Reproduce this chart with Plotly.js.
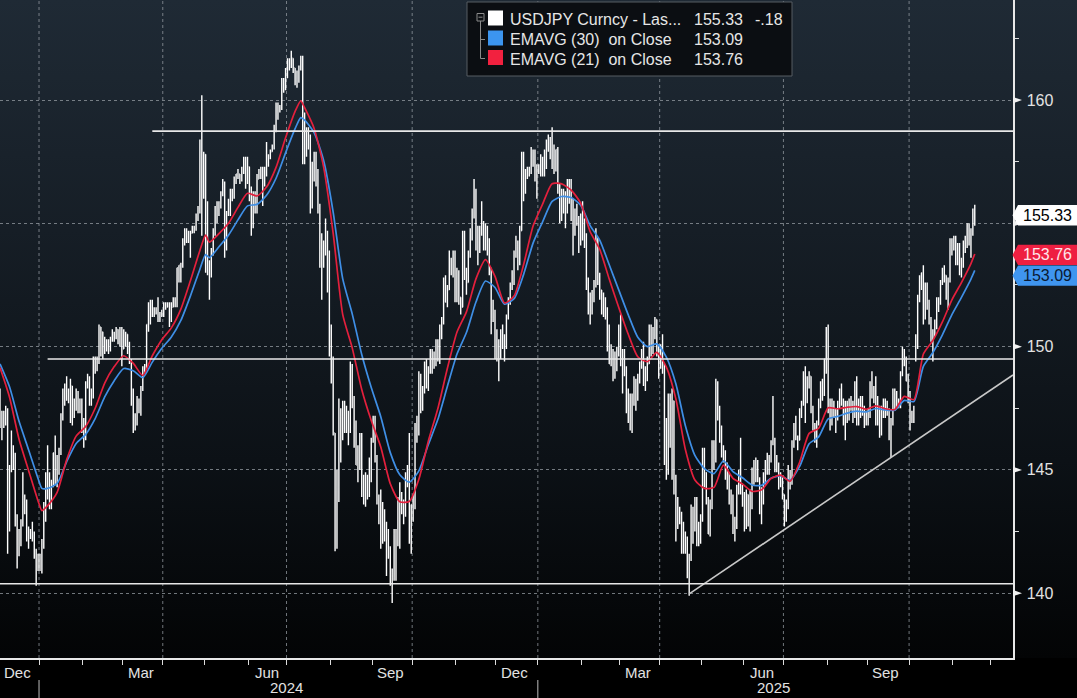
<!DOCTYPE html>
<html>
<head>
<meta charset="utf-8">
<script src="https://cdn.plot.ly/plotly-3.0.1.min.js"></script>
<style>
html,body{margin:0;padding:0;background:#000;}
#bg{position:absolute;left:0;top:0;width:1077px;height:658px;background:linear-gradient(to bottom,#1f2a35 0%,#161e26 35%,#0c1116 70%,#030405 100%);}
#chart{position:absolute;left:0;top:0;width:1077px;height:698px;}
</style>
</head>
<body>
<div id="bg"></div>
<div id="chart"></div>
<script>
// ---------------- DATA (USDJPY daily bars, first trading day 2023-12-01) ----------------
const firstDay = '2023-12-01';
const open = [
148.2,
146.9,147.2,147.2,147.3,144.1, 145.0,145.8,145.4,142.9,141.9, 142.2,142.8,143.8,143.6,142.2, 142.4,142.4,142.4,141.7,141.4,
141.0,141.0,141.9,143.3,144.6, 144.6,144.2,144.4,145.7,145.3, 144.9,145.7,147.2,148.2,148.1, 148.1,148.1,148.4,147.5,147.7, 148.1,147.5,147.6,146.9,146.4,
148.4,148.7,147.9,148.1,149.3, 149.3,149.4,150.8,150.6,149.9, 150.2,150.1,150.0,150.3,150.5, 150.5,150.7,150.5,150.7,149.9,
150.1,150.5,150.0,149.4,148.0, 147.0,146.9,147.7,147.8,148.3, 149.0,149.1,150.9,151.3,151.6, 151.4,151.4,151.5,151.3,151.3,
151.3,151.6,151.6,151.7,151.3, 151.6,151.9,151.8,153.2,153.3, 153.3,154.2,154.7,154.6,154.6, 154.6,154.8,154.8,155.3,155.6, 158.3,156.3,157.8,155.2,153.0,
152.9,153.9,154.7,155.5,155.4, 155.8,156.2,156.5,154.9,155.4, 155.7,156.3,156.2,156.8,157.0, 157.0,156.8,157.2,157.6,156.8,
157.3,156.1,154.9,156.1,155.6, 156.8,157.0,157.1,156.7,157.0, 157.4,157.7,157.9,158.1,158.9, 159.8,159.7,159.7,160.8,160.8,
160.9,161.5,161.4,161.7,161.3, 160.7,160.8,161.3,161.7,158.9, 157.9,158.1,158.3,156.2,157.4, 157.5,157.0,155.6,153.9,153.9, 153.8,154.0,152.7,150.0,149.4,
146.5,144.2,144.3,146.7,147.2, 146.6,147.2,146.9,147.3,149.2, 147.6,146.6,145.2,145.3,146.3, 144.4,144.5,143.9,144.6,145.0,
146.2,147.0,145.4,143.7,143.5, 142.3,143.1,142.4,142.4,141.8, 140.8,140.6,142.4,142.3,142.6, 143.9,143.6,143.2,144.8,145.0, 142.2,143.6,143.5,146.5,146.9,
148.7,148.2,148.2,149.3,148.6, 149.1,149.8,149.2,149.6,150.1, 149.5,150.8,151.1,152.7,151.8, 152.3,153.3,153.4,153.4,152.0,
153.0,152.0,151.6,154.6,152.9, 152.6,153.7,154.6,155.5,156.3, 154.3,154.6,154.7,155.0,154.5, 154.8,154.2,153.1,151.1,151.4,
149.8,149.6,149.6,150.6,150.1, 150.0,151.2,151.9,152.5,152.6, 153.7,154.1,153.5,154.7,157.4, 156.5,157.1,157.2,157.1,157.9,
157.9,156.8,157.2,157.2,157.5,
157.3,157.6,158.0,158.3,158.1, 157.8,157.5,158.0,156.5,155.2, 156.3,155.6,155.5,156.5,156.0, 156.0,154.6,155.5,155.2,154.3,
155.2,154.8,154.4,152.6,151.6, 151.4,152.0,152.5,154.4,152.8, 152.3,151.6,151.9,151.5,150.2, 149.3,149.7,149.0,149.2,149.8,
150.6,149.4,149.7,149.0,147.9, 148.0,147.3,147.8,148.6,148.0, 148.6,149.2,149.3,148.7,148.8, 149.3,150.7,149.9,150.6,151.1, 149.8,149.9,149.6,149.3,146.1,
146.9,147.8,146.3,147.8,144.5, 143.5,143.1,143.2,141.7,142.4, 142.2,140.9,141.5,143.4,142.6, 143.7,142.0,142.3,143.1,145.3,
144.9,143.7,142.4,143.7,145.9, 145.4,148.4,147.5,146.7,145.7, 145.7,144.8,144.5,143.7,143.9, 142.6,142.8,144.3,144.8,144.2,
144.0,142.7,144.0,142.8,143.5, 144.9,144.6,145.0,144.6,143.5, 144.1,144.8,145.3,145.1,145.5, 146.1,146.2,145.0,145.2,144.4, 144.6,144.0,143.4,143.6,144.9,
144.5,146.1,146.6,146.3,146.2, 147.4,147.7,148.9,147.8,148.6, 148.8,147.4,146.6,146.5,146.9, 147.7,148.5,148.4,149.5,150.7,
147.4,147.1,147.7,147.4,147.1, 147.7,148.2,147.8,147.4,147.7, 147.2,147.8,147.7,147.3,148.4, 146.9,147.8,147.4,147.4,146.9,
147.1,147.2,148.4,148.1,148.1, 147.4,147.5,146.5,147.4,147.2, 147.7,147.4,146.5,146.9,148.0, 148.0,147.7,147.7,148.9,149.8, 149.5,148.6,147.9,147.1,147.3,
149.8,150.1,152.0,152.7,153.0, 151.2,152.3,151.8,151.1,150.4, 150.6,150.8,151.9,151.9,152.6, 152.9,152.9,152.1,152.7,154.1,
154.0,154.2,153.6,154.1,153.1, 153.4,154.1,154.1,154.8,154.6, 154.6,155.5
];
const high = [
148.3,
147.4,147.4,147.6,147.5,145.2, 146.6,146.0,145.7,143.2,142.6, 143.0,144.9,144.0,143.8,142.7, 142.6,142.9,142.5,141.8,141.6,
141.6,142.2,143.7,144.9,146.0, 144.9,144.6,145.7,146.4,145.6, 145.9,147.3,148.3,148.5,148.8, 148.3,148.7,148.4,147.9,148.3, 148.2,147.9,147.9,147.1,148.6,
148.9,148.8,148.3,149.6,149.6, 149.6,150.9,150.8,150.6,150.4, 150.3,150.3,150.4,150.7,150.6, 150.8,150.7,150.8,150.8,150.7,
150.6,150.5,150.2,149.5,148.3, 147.3,148.0,147.9,148.4,149.2, 149.3,150.9,151.8,151.9,151.9, 151.6,151.6,152.0,151.4,151.5,
151.8,151.8,151.8,151.8,151.8, 152.0,152.0,153.2,153.3,153.4, 154.4,154.8,154.8,154.7,154.7, 154.9,154.9,155.4,155.7,158.4, 160.2,157.9,157.8,155.9,153.5,
154.0,154.8,155.7,155.9,155.9, 156.3,156.8,156.7,155.5,156.0, 156.4,156.4,156.9,157.0,157.2, 157.0,157.3,157.7,157.7,157.7,
157.3,156.5,156.3,156.3,157.0, 157.2,157.3,157.3,157.3,158.3, 157.8,158.0,158.2,159.0,159.9, 159.9,159.8,160.9,160.9,161.3,
161.7,161.7,162.0,161.7,161.3, 161.2,161.4,161.8,161.8,159.5, 158.9,158.9,158.6,157.5,157.9, 157.9,157.2,155.8,154.6,154.3, 155.2,154.7,153.9,150.9,149.6,
146.5,145.0,147.9,147.5,147.8, 147.8,147.6,147.4,149.4,149.3, 148.0,147.0,146.0,146.5,146.5, 144.8,144.9,144.8,145.5,146.3,
147.2,147.2,145.6,144.0,144.2, 143.7,143.4,142.9,142.6,141.9, 141.0,142.6,142.6,143.9,144.5, 144.1,143.8,144.9,145.2,146.5, 143.6,144.0,146.9,147.2,149.0,
148.9,148.4,149.4,149.5,149.2, 149.9,149.9,149.8,150.3,150.3, 150.9,151.2,152.8,152.9,152.5, 153.9,153.6,153.9,153.9,153.2,
153.1,152.0,154.7,154.7,153.2, 153.9,154.8,155.6,156.8,156.4, 154.9,154.9,155.9,155.1,155.0, 154.9,154.4,153.2,151.9,151.5,
150.7,150.3,150.7,150.9,150.5, 151.3,152.0,152.6,153.1,153.9, 154.5,154.3,154.9,157.9,157.9, 157.2,157.3,157.3,158.1,158.0,
158.0,157.4,157.4,157.8,157.7,
158.0,158.4,158.6,158.5,158.9, 158.2,158.0,158.1,156.6,156.4, 156.4,156.3,156.8,156.8,156.8, 156.0,155.6,155.8,155.3,155.4,
155.9,155.2,154.6,152.8,152.2, 152.3,152.7,154.8,154.4,153.0, 152.3,152.2,152.0,151.6,150.9, 150.1,149.9,149.8,150.0,150.9,
151.3,149.9,149.9,149.2,148.3, 148.1,148.1,148.8,148.7,148.9, 149.4,149.9,150.2,149.2,149.6, 150.9,150.9,150.8,151.2,151.1, 150.1,150.1,150.5,149.3,147.1,
148.1,148.1,148.3,147.8,144.8, 143.9,143.5,143.3,142.9,142.5, 142.3,141.6,143.6,143.5,143.9, 143.9,142.9,143.2,145.9,145.9,
144.9,143.9,143.8,146.2,146.2, 148.7,148.6,147.6,146.8,146.0, 145.8,145.3,144.9,144.2,144.0, 143.1,144.4,145.0,146.3,144.4,
144.1,144.2,144.0,144.2,145.1, 145.4,145.5,145.4,144.7,144.3, 144.9,145.4,145.7,145.6,146.2, 148.0,146.3,145.6,145.3,144.9, 144.7,144.0,143.8,145.2,145.0,
146.2,146.9,147.2,146.4,147.5, 147.8,149.0,149.2,148.8,149.0, 148.8,147.6,146.9,147.0,147.9, 148.6,148.7,149.5,150.8,150.9,
147.9,147.9,147.8,147.5,147.8, 148.3,148.5,147.9,147.8,147.8, 147.9,148.0,147.8,148.6,148.8, 147.9,148.0,148.0,147.6,147.4,
147.5,148.6,149.0,148.4,148.8, 148.0,147.6,147.6,147.9,147.9, 147.8,147.5,147.1,148.3,148.3, 148.2,147.9,149.0,150.0,149.9, 149.6,148.9,148.2,147.4,147.6,
150.5,152.1,152.9,153.0,153.3, 152.6,152.6,151.9,151.2,150.7, 151.1,152.0,152.0,152.7,153.2, 153.3,152.9,152.8,154.4,154.4,
154.5,154.5,154.2,154.2,153.6, 154.3,154.5,155.0,155.0,154.8, 155.6,155.75
];
const low = [
146.7,
146.2,146.7,146.8,141.6,142.5, 144.9,145.0,142.7,141.0,141.5, 141.9,142.7,143.2,142.1,141.8, 142.2,142.1,141.4,140.3,140.9,
140.9,140.8,141.8,142.9,143.8, 143.4,143.4,144.3,144.4,144.3, 144.8,145.6,147.0,147.6,147.8, 147.7,146.9,146.8,147.1,147.4, 147.3,147.3,146.5,145.9,146.2,
148.3,147.6,147.6,147.9,148.9, 149.0,149.3,149.6,149.5,149.7, 149.8,149.7,149.8,150.2,150.2, 150.3,150.1,150.0,149.2,149.9,
150.0,149.7,149.3,147.6,146.5, 146.6,146.8,147.3,147.2,148.2, 148.9,149.1,150.6,150.9,151.2, 151.2,151.3,151.0,151.0,151.2,
151.2,151.5,151.6,150.8,151.0, 151.6,151.6,151.6,152.6,152.6, 153.2,154.1,154.2,154.2,153.6, 154.6,154.6,154.7,155.1,155.4, 154.5,156.0,153.0,152.9,151.9,
152.8,153.7,154.5,155.0,155.3, 155.6,156.1,153.6,153.9,155.3, 155.3,155.9,156.0,156.6,156.8, 156.6,156.7,157.0,156.4,156.6,
155.9,154.5,154.8,155.4,155.4, 156.8,156.8,155.7,156.5,156.9, 157.3,157.6,157.9,158.0,158.7, 159.2,159.5,159.6,160.3,160.4,
160.9,161.2,161.3,161.1,160.6, 160.5,160.7,161.2,157.4,157.4, 157.7,158.0,155.4,155.6,156.7, 156.5,155.4,153.2,151.9,153.2, 153.7,152.2,149.6,148.5,146.4,
141.7,141.8,143.7,145.3,146.2, 146.5,146.5,146.0,146.5,147.5, 145.9,145.2,144.5,145.0,143.9, 143.6,143.5,143.8,143.9,144.5,
146.1,145.3,143.6,142.8,141.8, 142.0,142.1,140.7,141.4,140.3, 139.6,140.5,140.5,141.9,141.8, 143.2,142.8,143.1,144.3,142.0, 141.6,142.9,143.4,146.1,146.4,
147.3,147.4,148.1,148.3,148.2, 148.9,148.9,149.1,149.2,149.4, 149.3,150.3,150.9,151.8,151.6, 152.3,152.9,152.8,151.8,151.8,
151.7,151.3,151.6,152.7,152.1, 152.6,153.6,154.3,155.2,153.9, 153.3,153.8,154.5,153.9,153.9, 153.7,152.9,150.5,151.0,149.5,
149.4,148.6,149.5,149.9,149.4, 149.9,151.1,151.7,152.3,152.5, 153.6,153.1,153.3,154.7,155.9, 156.2,156.8,156.9,157.0,157.3,
156.7,156.0,157.0,156.9,156.9,
156.9,157.2,157.9,157.6,157.2, 157.0,157.1,156.2,155.0,155.1, 155.4,154.8,155.4,155.8,155.1, 153.7,154.5,154.9,153.8,154.1,
154.3,154.0,152.3,151.3,150.9, 151.3,151.8,152.4,152.5,151.9, 151.3,151.2,151.1,149.8,149.3, 149.2,148.6,148.7,149.0,149.6,
149.2,148.1,148.8,147.3,146.9, 146.6,146.5,147.6,147.4,147.8, 148.5,149.1,148.4,148.2,148.6, 149.3,149.6,149.7,150.3,149.6, 148.7,149.1,148.9,145.2,144.6,
144.8,145.9,144.6,144.0,142.1, 142.6,142.8,141.6,141.6,141.6, 140.6,139.9,141.3,142.0,142.5, 141.9,141.9,142.0,142.9,144.3,
143.6,142.4,142.3,143.4,145.0, 145.3,147.0,146.1,145.5,145.3, 144.6,144.2,143.6,143.2,142.4, 142.1,142.6,144.0,144.0,143.5,
142.5,142.6,142.7,142.5,143.4, 144.4,144.5,144.5,143.2,142.8, 143.6,144.4,144.8,144.8,145.3, 146.0,144.9,144.9,144.2,144.3, 143.8,142.7,142.9,143.4,144.2,
144.4,145.9,146.2,145.8,146.2, 147.1,147.6,146.9,147.7,148.3, 147.3,146.6,146.1,145.9,146.8, 147.5,147.8,148.0,148.9,147.3,
146.6,146.8,147.1,146.5,147.0, 147.5,147.6,146.8,146.2,146.9, 147.0,147.4,146.9,147.1,146.8, 146.8,147.1,147.2,146.7,146.8,
146.8,147.1,147.9,147.7,146.8, 146.8,146.3,146.4,147.1,147.1, 147.2,146.2,145.5,146.8,147.4, 147.5,147.5,147.5,148.8,149.2, 148.6,147.7,146.6,146.9,146.9,
149.4,149.9,151.8,152.3,150.9, 151.1,151.5,150.9,150.2,149.4, 150.4,150.7,151.4,151.7,152.5, 152.6,151.9,151.5,152.6,153.7,
153.9,153.3,153.3,152.9,152.8, 153.2,153.8,154.0,154.1,153.6, 154.5,154.9
];
const close = [
146.8,
147.2,147.2,147.3,144.1,144.9, 145.8,145.4,142.9,141.9,142.2, 142.8,143.8,143.6,142.2,142.4, 142.4,142.4,141.7,141.4,141.0,
141.0,141.9,143.3,144.6,144.6, 144.2,144.4,145.7,145.3,144.9, 145.7,147.2,148.2,148.1,148.1, 148.1,148.4,147.5,147.7,148.1, 147.5,147.6,146.9,146.4,148.4,
148.7,147.9,148.1,149.3,149.3, 149.4,150.8,150.6,149.9,150.2, 150.1,150.0,150.3,150.5,150.5, 150.7,150.5,150.7,149.9,150.1,
150.5,150.0,149.4,148.0,147.0, 146.9,147.7,147.8,148.3,149.0, 149.1,150.9,151.3,151.6,151.4, 151.4,151.5,151.3,151.3,151.3,
151.6,151.6,151.7,151.3,151.6, 151.9,151.8,153.2,153.3,153.3, 154.2,154.7,154.6,154.6,154.6, 154.8,154.8,155.3,155.6,158.3, 156.3,157.8,155.2,153.0,152.9,
153.9,154.7,155.5,155.4,155.8, 156.2,156.5,154.9,155.4,155.7, 156.3,156.2,156.8,157.0,157.0, 156.8,157.2,157.6,156.8,157.3,
156.1,154.9,156.1,155.6,156.8, 157.0,157.1,156.7,157.0,157.4, 157.7,157.9,158.1,158.9,159.8, 159.7,159.7,160.8,160.8,160.9,
161.5,161.4,161.7,161.3,160.7, 160.8,161.3,161.7,158.9,157.9, 158.1,158.3,156.2,157.4,157.5, 157.0,155.6,153.9,153.9,153.8, 154.0,152.7,150.0,149.4,146.5,
144.2,144.3,146.7,147.2,146.6, 147.2,146.9,147.3,149.3,147.6, 146.6,145.2,145.3,146.3,144.4, 144.5,143.9,144.6,145.0,146.2,
147.0,145.4,143.7,143.5,142.3, 143.1,142.4,142.4,141.8,140.8, 140.6,142.4,142.3,142.6,143.9, 143.6,143.2,144.8,145.0,142.2, 143.6,143.5,146.5,146.9,148.7,
148.2,148.2,149.3,148.6,149.1, 149.8,149.2,149.6,150.1,149.5, 150.8,151.1,152.7,151.8,152.3, 153.3,153.4,153.4,152.0,153.0,
152.0,151.6,154.6,152.9,152.6, 153.7,154.6,155.5,156.3,154.3, 154.6,154.7,155.4,154.5,154.8, 154.2,153.1,151.1,151.4,149.8,
149.6,149.6,150.6,150.1,150.0, 151.2,151.9,152.5,152.6,153.7, 154.1,153.5,154.7,157.4,156.5, 157.1,157.2,157.1,157.9,157.9,
156.8,157.2,157.2,157.5,157.3,
157.6,158.0,158.3,158.1,157.8, 157.5,158.0,156.5,155.2,156.3, 155.6,155.5,156.5,156.0,156.0, 154.6,155.5,155.2,154.3,155.2,
154.8,154.4,152.6,151.6,151.4, 152.0,152.5,154.4,152.8,152.3, 151.6,151.9,151.5,150.2,149.3, 149.7,149.0,149.2,149.8,150.6,
149.4,149.7,149.0,147.9,148.0, 147.3,147.8,148.6,148.0,148.6, 149.2,149.3,148.7,148.8,149.3, 150.7,149.9,150.6,151.1,149.8, 149.9,149.6,149.3,146.1,146.9,
147.8,146.3,147.8,144.5,143.5, 143.1,143.2,141.7,142.4,142.2, 140.9,141.5,143.4,142.6,143.7, 142.0,142.3,143.1,145.3,144.9,
143.7,142.4,143.7,145.9,145.4, 148.4,147.5,146.7,145.7,145.7, 144.8,144.5,143.7,143.9,142.6, 142.8,144.3,144.8,144.2,144.0,
142.7,144.0,142.8,143.5,144.9, 144.6,145.0,144.6,143.5,144.1, 144.8,145.3,145.1,145.5,146.1, 146.2,145.0,145.2,144.4,144.6, 144.0,143.4,143.6,144.9,144.5,
146.1,146.6,146.3,146.2,147.4, 147.7,148.9,147.8,148.6,148.8, 147.4,146.6,146.5,146.9,147.7, 148.5,148.4,149.5,150.7,147.4,
147.1,147.7,147.4,147.1,147.7, 148.2,147.8,147.4,147.7,147.2, 147.8,147.7,147.3,148.4,146.9, 147.8,147.4,147.4,146.9,147.1,
147.2,148.4,148.1,148.1,147.4, 147.5,146.5,147.4,147.2,147.7, 147.4,146.5,146.9,148.0,148.0, 147.7,147.7,148.9,149.8,149.5, 148.6,147.9,147.1,147.3,147.5,
150.1,152.0,152.7,153.0,151.2, 152.3,151.8,151.1,150.4,150.6, 150.8,151.9,151.9,152.6,152.9, 152.9,152.1,152.7,154.1,154.0,
154.2,153.6,154.1,153.1,153.4, 154.1,154.1,154.8,154.6,154.6, 155.51,155.33
];

// EMA values
const emaDates = [
'2023-12-01','2023-12-08','2023-12-15','2023-12-22','2023-12-29','2024-01-02','2024-01-05','2024-01-12','2024-01-19','2024-01-26',
'2024-02-02','2024-02-09','2024-02-16','2024-02-23','2024-03-01','2024-03-08','2024-03-15','2024-03-22','2024-03-29','2024-04-05',
'2024-04-12','2024-04-19','2024-04-26','2024-05-01','2024-05-03','2024-05-10','2024-05-17','2024-05-24','2024-05-31','2024-06-07',
'2024-06-14','2024-06-21','2024-06-28','2024-07-05','2024-07-10','2024-07-12','2024-07-19','2024-07-26','2024-08-02','2024-08-09',
'2024-08-16','2024-08-23','2024-08-30','2024-09-06','2024-09-13','2024-09-20','2024-09-27','2024-10-04','2024-10-11','2024-10-18',
'2024-10-25','2024-11-01','2024-11-08','2024-11-15','2024-11-22','2024-11-29','2024-12-06','2024-12-13','2024-12-20','2024-12-27',
'2025-01-03','2025-01-10','2025-01-17','2025-01-24','2025-01-31','2025-02-07','2025-02-14','2025-02-21','2025-02-28','2025-03-07',
'2025-03-14','2025-03-21','2025-03-28','2025-04-04','2025-04-11','2025-04-18','2025-04-25','2025-05-02','2025-05-09','2025-05-16',
'2025-05-23','2025-05-30','2025-06-06','2025-06-13','2025-06-20','2025-06-27','2025-07-04','2025-07-11','2025-07-18','2025-07-25',
'2025-08-01','2025-08-08','2025-08-15','2025-08-22','2025-08-29','2025-09-05','2025-09-12','2025-09-19','2025-09-26','2025-10-03',
'2025-10-10','2025-10-17','2025-10-24','2025-10-31','2025-11-07','2025-11-14','2025-11-18'
];
const ema21 = [
149.15,147.95,146.24,144.98,143.74,143.35,143.55,144.09,145.41,146.37,
146.76,147.50,148.52,149.19,149.63,149.32,148.83,149.63,150.28,150.76,
151.52,152.67,153.90,154.52,154.24,154.58,155.00,155.65,156.22,156.11,
156.47,157.27,158.47,159.54,159.97,159.69,158.85,157.28,154.59,151.31,
149.95,148.26,147.00,145.93,144.44,143.71,143.72,144.62,146.17,147.49,
149.12,150.58,151.41,152.75,153.53,152.85,151.77,152.05,153.32,154.89,
155.78,156.61,156.60,156.35,155.82,154.66,153.95,152.74,151.59,150.50,
149.59,149.39,149.77,149.17,147.88,145.83,144.59,144.25,144.29,145.19,
144.66,144.43,144.13,144.19,144.65,144.79,144.54,145.31,146.48,146.69,
147.52,147.48,147.54,147.57,147.46,147.60,147.48,147.45,147.98,147.85,
149.70,150.25,151.00,151.90,152.60,153.37,153.76
];
const ema30 = [
149.30,148.37,146.97,145.82,144.65,144.25,144.25,144.45,145.33,146.07,
146.44,147.08,147.96,148.62,149.11,149.02,148.74,149.37,149.93,150.39,
151.06,152.05,153.14,153.73,153.61,154.05,154.52,155.14,155.71,155.77,
156.14,156.83,157.86,158.84,159.29,159.19,158.68,157.55,155.46,152.76,
151.33,149.68,148.34,147.16,145.70,144.80,144.50,144.96,146.03,147.05,
148.39,149.69,150.57,151.81,152.66,152.40,151.72,151.94,152.92,154.20,
155.06,155.89,156.09,156.05,155.74,154.91,154.32,153.32,152.30,151.29,
150.38,150.00,150.11,149.57,148.49,146.79,145.59,145.05,144.85,145.37,
144.93,144.68,144.39,144.37,144.66,144.76,144.58,145.14,146.06,146.34,
147.07,147.17,147.30,147.38,147.35,147.49,147.43,147.42,147.82,147.77,
149.20,149.76,150.48,151.30,152.00,152.74,153.09
];

// Annotated levels and trend line
const levelValues = [158.74, 149.50, 140.38];
const levelStarts = ['2024-03-22 12:00', '2024-01-05 12:00', '2023-12-01 12:00'];
const trendDates = ['2025-04-22 12:00', '2025-12-16 14:00'];
const trendValues = [139.97, 148.85];

const monthLabels = ['Dec', 'Mar', 'Jun', 'Sep', 'Dec', 'Mar', 'Jun', 'Sep'];
const monthLabelDates = ['2023-12-14 12:00','2024-03-14 12:00','2024-06-14 12:00','2024-09-13 12:00','2024-12-13 12:00','2025-03-14 12:00','2025-06-13 12:00','2025-09-12 12:00'];
const yearLabels = ['2024', '2025'];
const yearLabelDates = ['2024-07-01', '2025-06-24'];
const yearStarts = ['2024-01-01', '2025-01-01'];
const quarterStarts = ['2024-01-01','2024-04-01','2024-07-01','2024-10-01','2025-01-01','2025-04-01','2025-07-01','2025-10-01'];
const yTicks = [140, 145, 150, 155, 160];
const yTickText = ['140', '145', '150', '', '160'];   // 155 sits under the last-price tag
const yMinor = [142.5, 147.5, 152.5, 157.5, 162.5];
const lastChange = '-.18';
const seriesName = 'USDJPY Curncy - Las...';

// ---------------- helpers ----------------
function bizDays(start, n) {
  const out = [];
  let d = new Date(start + 'T12:00:00Z');
  while (out.length < n) {
    const wd = d.getUTCDay();
    if (wd !== 0 && wd !== 6) out.push(d.toISOString().slice(0, 10) + ' 12:00');
    d = new Date(d.getTime() + 86400000);
  }
  return out;
}
function monthStarts(y0, m0, count) {
  const out = [];
  for (let i = 0; i < count; i++) {
    const d = new Date(Date.UTC(y0, m0 + i, 1));
    const wd = d.getUTCDay();
    if (wd === 6) d.setUTCDate(d.getUTCDate() + 2);
    if (wd === 0) d.setUTCDate(d.getUTCDate() + 1);
    out.push(d.toISOString().slice(0, 10));
  }
  return out;
}

const n = Math.min(open.length, high.length, low.length, close.length);
const dates = bizDays(firstDay, n);
const emaX = emaDates.map(d => d + ' 12:00');

const PW = 1013, PH = 658;
const YR = [137.37, 164.06];
const px = x => x / PW;
const py = y => 1 - y / PH;
const dv = pixels => pixels * (YR[1] - YR[0]) / PH;
const XR = ['2023-12-01 12:00', '2025-12-16 14:00'];

const lastClose = close[n - 1];
const last21 = ema21[ema21.length - 1];
const last30 = ema30[ema30.length - 1];
const FONT = 'Liberation Sans, Arial, sans-serif';

const traces = [
  {
    type: 'ohlc', x: dates.slice(0, n), open: open.slice(0, n), high: high.slice(0, n), low: low.slice(0, n), close: close.slice(0, n),
    increasing: {line: {color: '#ffffff', width: 1.4}},
    decreasing: {line: {color: '#ffffff', width: 1.4}},
    tickwidth: 0.35, hoverinfo: 'skip', showlegend: false
  },
  {
    type: 'scatter', mode: 'lines', x: emaX, y: ema30,
    line: {color: '#3f8fe6', width: 1.7, shape: 'spline', smoothing: 0.6},
    hoverinfo: 'skip', showlegend: false
  },
  {
    type: 'scatter', mode: 'lines', x: emaX, y: ema21,
    line: {color: '#e3203d', width: 1.7, shape: 'spline', smoothing: 0.6},
    hoverinfo: 'skip', showlegend: false
  },
  {
    type: 'scatter', mode: 'lines', x: trendDates, y: trendValues,
    line: {color: '#c8c8c8', width: 1.6}, hoverinfo: 'skip', showlegend: false
  }
];

const shapes = [];
quarterStarts.forEach(d => shapes.push({type: 'line', xref: 'x', yref: 'paper', x0: d, x1: d, y0: 0, y1: 1,
  line: {color: 'rgba(150,156,163,0.75)', width: 1, dash: 'dot'}, layer: 'below'}));
levelValues.forEach((v, i) => shapes.push({type: 'line', xref: 'x', yref: 'y', x0: levelStarts[i], x1: XR[1], y0: v, y1: v,
  line: {color: '#e8e8e8', width: 1.6}, layer: 'above'}));
yearStarts.forEach(d => shapes.push({type: 'line', xref: 'x', yref: 'paper', x0: d, x1: d, y0: py(680), y1: py(698),
  line: {color: '#bdbdbd', width: 1}}));
const th = dv(3.2);
yTicks.forEach(v => shapes.push({type: 'path', xref: 'paper', yref: 'y',
  path: `M ${px(1013)},${v + th} L ${px(1022)},${v} L ${px(1013)},${v - th} Z`,
  fillcolor: '#f0f0f0', line: {width: 0}}));
function tag(center, fill) {
  const h = dv(10.2);
  return {type: 'path', xref: 'paper', yref: 'y',
    path: `M ${px(1012.5)},${center} L ${px(1018)},${center + h} L ${px(1077)},${center + h} L ${px(1077)},${center - h} L ${px(1018)},${center - h} Z`,
    fillcolor: fill, line: {width: 0}, layer: 'above'};
}
const cWhite = lastClose, cRed = last21 - 0.04, cBlue = last30 - 0.21;
shapes.push(tag(cWhite, '#ffffff'), tag(cRed, '#ee1f41'), tag(cBlue, '#3f95ef'));
shapes.push({type: 'rect', xref: 'paper', yref: 'paper', x0: px(467), x1: px(792), y0: py(76), y1: py(2),
  fillcolor: '#0b0e12', line: {color: '#565c63', width: 1}, layer: 'above'});
shapes.push({type: 'rect', xref: 'paper', yref: 'paper', x0: px(477), x1: px(484), y0: py(21), y1: py(13.5),
  fillcolor: 'rgba(0,0,0,0)', line: {color: '#8a8a8a', width: 1}, layer: 'above'});
shapes.push({type: 'line', xref: 'paper', yref: 'paper', x0: px(478.5), x1: px(482.5), y0: py(17.2), y1: py(17.2),
  line: {color: '#8a8a8a', width: 1}, layer: 'above'});
shapes.push({type: 'line', xref: 'paper', yref: 'paper', x0: px(480.5), x1: px(480.5), y0: py(21), y1: py(58.5),
  line: {color: '#8a8a8a', width: 1}, layer: 'above'});
[39.5, 58.5].forEach(y => shapes.push({type: 'line', xref: 'paper', yref: 'paper', x0: px(480.5), x1: px(485), y0: py(y), y1: py(y),
  line: {color: '#8a8a8a', width: 1}, layer: 'above'}));
[['#ffffff', 18], ['#3c95ef', 38], ['#f2213f', 57.5]].forEach(([c, y]) => shapes.push({type: 'rect', xref: 'paper', yref: 'paper',
  x0: px(488), x1: px(503), y0: py(y + 7.5), y1: py(y - 7.5), fillcolor: c, line: {width: 0}, layer: 'above'}));

const annotations = [];
monthLabels.forEach((t, i) => annotations.push({text: t, x: monthLabelDates[i], xref: 'x', y: 0, yref: 'paper', yshift: -14,
  yanchor: 'middle', xanchor: 'center', showarrow: false, font: {family: FONT, size: 15, color: '#e2e2e2'}}));
yearLabels.forEach((t, i) => annotations.push({text: t, x: yearLabelDates[i], xref: 'x', y: 0, yref: 'paper', yshift: -29,
  yanchor: 'middle', xanchor: 'center', showarrow: false, borderpad: 0, font: {family: FONT, size: 15, color: '#e2e2e2'}}));
function tagText(txt, center, color) {
  return {text: txt, x: px(1021), xref: 'paper', y: center, yref: 'y', xanchor: 'left', yanchor: 'middle', showarrow: false,
    font: {family: FONT, size: 16, color: color}};
}
annotations.push(tagText(lastClose.toFixed(2), cWhite, '#000000'));
annotations.push(tagText(last21.toFixed(2), cRed, '#ffe6ea'));
annotations.push(tagText(last30.toFixed(2), cBlue, '#0a1a33'));
function legText(txt, x, y) {
  return {text: txt, x: px(x), xref: 'paper', y: py(y), yref: 'paper', xanchor: 'left', yanchor: 'middle', showarrow: false,
    font: {family: FONT, size: 16, color: '#e6e6e6'}};
}
annotations.push(legText(seriesName, 508, 19.5));
annotations.push(legText(lastClose.toFixed(2), 692, 19.5));
annotations.push(legText(lastChange, 753, 19.5));
annotations.push(legText('EMAVG (30)\u00a0\u00a0on Close', 508, 39.5));
annotations.push(legText(last30.toFixed(2), 692, 39.5));
annotations.push(legText('EMAVG (21)\u00a0\u00a0on Close', 508, 59));
annotations.push(legText(last21.toFixed(2), 692, 59));

const layout = {
  width: 1077, height: 698,
  margin: {l: 0, r: 64, t: 0, b: 40, pad: 0},
  paper_bgcolor: 'rgba(0,0,0,0)', plot_bgcolor: 'rgba(0,0,0,0)',
  showlegend: false, dragmode: false, hovermode: false,
  xaxis: {
    type: 'date', range: XR, rangebreaks: [{bounds: ['sat', 'mon']}],
    rangeslider: {visible: false},
    tickmode: 'array', tickvals: monthStarts(2023, 11, 25), ticktext: Array(25).fill(''),
    ticks: 'outside', ticklen: 5, tickcolor: '#dcdcdc', tickwidth: 1,
    showline: true, linecolor: '#e8e8e8', linewidth: 1.5,
    showgrid: false, zeroline: false, fixedrange: true, automargin: false
  },
  yaxis: {
    side: 'right', range: YR, tickmode: 'array', tickvals: yTicks, ticktext: yTickText,
    ticks: 'outside', ticklen: 9, tickcolor: 'rgba(0,0,0,0)',
    minor: {tickmode: 'array', tickvals: yMinor, ticks: 'outside', ticklen: 4, tickcolor: '#dcdcdc', tickwidth: 1, showgrid: false},
    tickfont: {family: FONT, size: 16, color: '#e2e2e2'},
    showline: true, linecolor: '#e8e8e8', linewidth: 1.5,
    showgrid: true, gridcolor: 'rgba(150,156,163,0.75)', griddash: 'dot', gridwidth: 1,
    zeroline: false, fixedrange: true, automargin: false
  },
  shapes: shapes,
  annotations: annotations
};

Plotly.newPlot('chart', traces, layout, {staticPlot: true, displayModeBar: false});
</script>
</body>
</html>
